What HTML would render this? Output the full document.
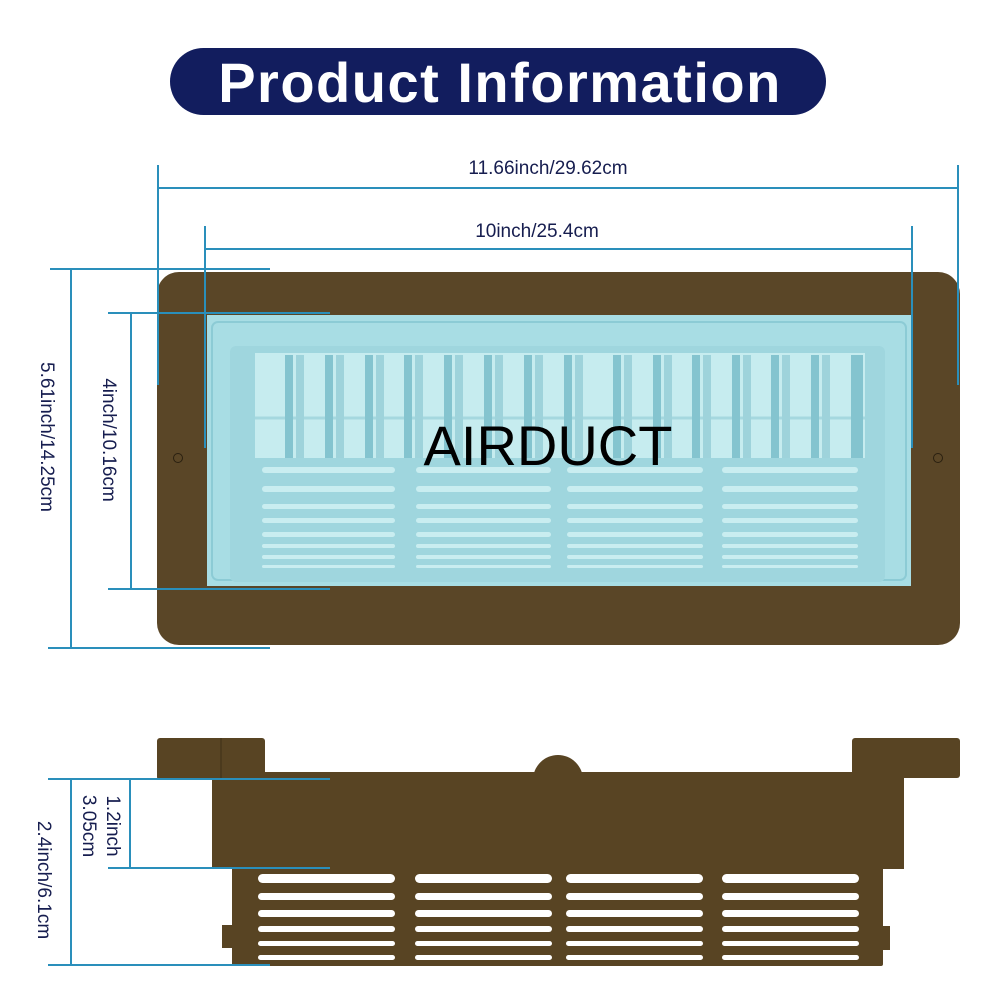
<!DOCTYPE html>
<html><head><meta charset="utf-8"><style>
html,body{margin:0;padding:0;background:#fff;width:1000px;height:1000px;overflow:hidden}
svg{display:block}
</style></head><body>
<svg width="1000" height="1000" viewBox="0 0 1000 1000" xmlns="http://www.w3.org/2000/svg" font-family="Liberation Sans, DejaVu Sans, sans-serif">
<rect x="170" y="48" width="656" height="67" rx="33.5" fill="#121d5e"/>
<text x="500" y="102" text-anchor="middle" font-size="56" font-weight="bold" letter-spacing="1.5" fill="#fff">Product Information</text>

<!-- top frame -->
<rect x="157" y="272" width="803" height="373" rx="22" fill="#5a4627"/>
<circle cx="178" cy="458" r="4.5" fill="none" stroke="#2a2010" stroke-width="1"/>
<circle cx="938" cy="458" r="4.5" fill="none" stroke="#2a2010" stroke-width="1"/>
<rect x="207" y="315" width="704" height="271" fill="#a8dde4"/>
<rect x="212" y="322" width="694" height="258" rx="6" fill="none" stroke="#8ccbd5" stroke-width="2"/>
<rect x="230" y="346" width="655" height="236" rx="6" fill="#9fd6de"/>
<rect x="255" y="353" width="610" height="105" fill="#c6ecef"/>
<line x1="255" y1="418" x2="865" y2="418" stroke="#a5d8df" stroke-width="3"/>
<g fill="#84c4cf">
<rect x="285" y="355" width="8" height="103"/><rect x="296" y="355" width="8" height="103" fill="#9ed3db"/>
<rect x="325" y="355" width="8" height="103"/><rect x="336" y="355" width="8" height="103" fill="#9ed3db"/>
<rect x="365" y="355" width="8" height="103"/><rect x="376" y="355" width="8" height="103" fill="#9ed3db"/>
<rect x="404" y="355" width="8" height="103"/><rect x="415" y="355" width="8" height="103" fill="#9ed3db"/>
<rect x="444" y="355" width="8" height="103"/><rect x="455" y="355" width="8" height="103" fill="#9ed3db"/>
<rect x="484" y="355" width="8" height="103"/><rect x="495" y="355" width="8" height="103" fill="#9ed3db"/>
<rect x="524" y="355" width="8" height="103"/><rect x="535" y="355" width="8" height="103" fill="#9ed3db"/>
<rect x="564" y="355" width="8" height="103"/><rect x="575" y="355" width="8" height="103" fill="#9ed3db"/>
<rect x="613" y="355" width="8" height="103"/><rect x="624" y="355" width="8" height="103" fill="#9ed3db"/>
<rect x="653" y="355" width="8" height="103"/><rect x="664" y="355" width="8" height="103" fill="#9ed3db"/>
<rect x="692" y="355" width="8" height="103"/><rect x="703" y="355" width="8" height="103" fill="#9ed3db"/>
<rect x="732" y="355" width="8" height="103"/><rect x="743" y="355" width="8" height="103" fill="#9ed3db"/>
<rect x="771" y="355" width="8" height="103"/><rect x="782" y="355" width="8" height="103" fill="#9ed3db"/>
<rect x="811" y="355" width="8" height="103"/><rect x="822" y="355" width="8" height="103" fill="#9ed3db"/>
<rect x="851" y="355" width="12" height="103"/>
</g>
<g fill="#c9edf0">
<rect x="262" y="467" width="133" height="6" rx="3"/><rect x="262" y="486" width="133" height="6" rx="3"/><rect x="262" y="504" width="133" height="5" rx="2.5"/><rect x="262" y="518" width="133" height="5" rx="2.5"/><rect x="262" y="532" width="133" height="5" rx="2.5"/><rect x="262" y="544" width="133" height="4" rx="2"/><rect x="262" y="555" width="133" height="4" rx="2"/><rect x="262" y="565" width="133" height="3" rx="1.5"/>
<rect x="416" y="467" width="135" height="6" rx="3"/><rect x="416" y="486" width="135" height="6" rx="3"/><rect x="416" y="504" width="135" height="5" rx="2.5"/><rect x="416" y="518" width="135" height="5" rx="2.5"/><rect x="416" y="532" width="135" height="5" rx="2.5"/><rect x="416" y="544" width="135" height="4" rx="2"/><rect x="416" y="555" width="135" height="4" rx="2"/><rect x="416" y="565" width="135" height="3" rx="1.5"/>
<rect x="567" y="467" width="136" height="6" rx="3"/><rect x="567" y="486" width="136" height="6" rx="3"/><rect x="567" y="504" width="136" height="5" rx="2.5"/><rect x="567" y="518" width="136" height="5" rx="2.5"/><rect x="567" y="532" width="136" height="5" rx="2.5"/><rect x="567" y="544" width="136" height="4" rx="2"/><rect x="567" y="555" width="136" height="4" rx="2"/><rect x="567" y="565" width="136" height="3" rx="1.5"/>
<rect x="722" y="467" width="136" height="6" rx="3"/><rect x="722" y="486" width="136" height="6" rx="3"/><rect x="722" y="504" width="136" height="5" rx="2.5"/><rect x="722" y="518" width="136" height="5" rx="2.5"/><rect x="722" y="532" width="136" height="5" rx="2.5"/><rect x="722" y="544" width="136" height="4" rx="2"/><rect x="722" y="555" width="136" height="4" rx="2"/><rect x="722" y="565" width="136" height="3" rx="1.5"/>
</g>
<text x="548" y="465" text-anchor="middle" font-size="56" fill="#000">AIRDUCT</text>

<!-- bottom side view -->
<g fill="#584423">
<rect x="157" y="738" width="108" height="42" rx="3"/>
<rect x="852" y="738" width="108" height="40" rx="3"/>
<circle cx="558" cy="780" r="25"/>
<rect x="212" y="772" width="692" height="97"/>
<rect x="232" y="866" width="651" height="100" rx="2"/>
<rect x="222" y="925" width="12" height="23"/>
<rect x="880" y="926" width="10" height="24"/>
</g>
<line x1="221" y1="738" x2="221" y2="778" stroke="#3e2f17" stroke-width="1"/>
<g fill="#fff">
<rect x="258" y="874" width="137" height="9" rx="4.5"/><rect x="258" y="893" width="137" height="7" rx="3.5"/><rect x="258" y="910" width="137" height="7" rx="3.5"/><rect x="258" y="926" width="137" height="6" rx="3"/><rect x="258" y="941" width="137" height="5" rx="2.5"/><rect x="258" y="955" width="137" height="5" rx="2.5"/>
<rect x="415" y="874" width="137" height="9" rx="4.5"/><rect x="415" y="893" width="137" height="7" rx="3.5"/><rect x="415" y="910" width="137" height="7" rx="3.5"/><rect x="415" y="926" width="137" height="6" rx="3"/><rect x="415" y="941" width="137" height="5" rx="2.5"/><rect x="415" y="955" width="137" height="5" rx="2.5"/>
<rect x="566" y="874" width="137" height="9" rx="4.5"/><rect x="566" y="893" width="137" height="7" rx="3.5"/><rect x="566" y="910" width="137" height="7" rx="3.5"/><rect x="566" y="926" width="137" height="6" rx="3"/><rect x="566" y="941" width="137" height="5" rx="2.5"/><rect x="566" y="955" width="137" height="5" rx="2.5"/>
<rect x="722" y="874" width="137" height="9" rx="4.5"/><rect x="722" y="893" width="137" height="7" rx="3.5"/><rect x="722" y="910" width="137" height="7" rx="3.5"/><rect x="722" y="926" width="137" height="6" rx="3"/><rect x="722" y="941" width="137" height="5" rx="2.5"/><rect x="722" y="955" width="137" height="5" rx="2.5"/>
</g>

<!-- dimension lines -->
<g stroke="#2a8fbb" stroke-width="2" fill="none">
<line x1="158" y1="165" x2="158" y2="385"/><line x1="958" y1="165" x2="958" y2="385"/><line x1="158" y1="188" x2="958" y2="188"/>
<line x1="205" y1="226" x2="205" y2="448"/><line x1="912" y1="226" x2="912" y2="448"/><line x1="205" y1="249" x2="912" y2="249"/>
<line x1="71" y1="269" x2="71" y2="648"/><line x1="50" y1="269" x2="270" y2="269"/><line x1="48" y1="648" x2="270" y2="648"/>
<line x1="131" y1="313" x2="131" y2="589"/><line x1="108" y1="313" x2="330" y2="313"/><line x1="108" y1="589" x2="330" y2="589"/>
<line x1="71" y1="779" x2="71" y2="965"/><line x1="48" y1="779" x2="330" y2="779"/><line x1="48" y1="965" x2="270" y2="965"/>
<line x1="130" y1="779" x2="130" y2="868"/><line x1="108" y1="868" x2="330" y2="868"/>
</g>
<g fill="#161d4f" font-size="19">
<text x="548" y="174" text-anchor="middle">11.66inch/29.62cm</text>
<text x="537" y="237" text-anchor="middle">10inch/25.4cm</text>
<text transform="translate(41,437) rotate(90)" text-anchor="middle">5.61inch/14.25cm</text>
<text transform="translate(103,440) rotate(90)" text-anchor="middle">4inch/10.16cm</text>
<text transform="translate(107,826) rotate(90)" text-anchor="middle">1.2inch</text>
<text transform="translate(83,826) rotate(90)" text-anchor="middle">3.05cm</text>
<text transform="translate(38,880) rotate(90)" text-anchor="middle">2.4inch/6.1cm</text>
</g>
</svg>
</body></html>
